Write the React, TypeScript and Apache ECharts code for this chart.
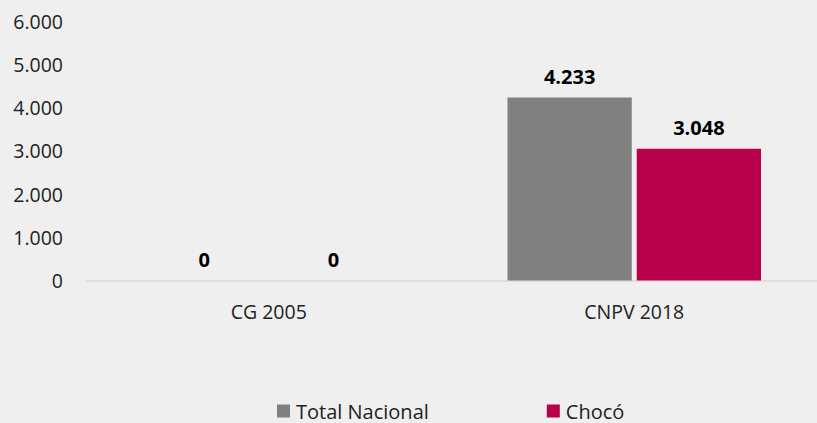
import React, { useEffect, useRef } from "react";
import * as echarts from "echarts";

const categories = ["CG 2005", "CNPV 2018"];
const totalNacional = [0, 4233];
const choco = [0, 3048];
const seriesNames = ["Total Nacional", "Chocó"];

const fmt = (v: number) => {
  const s = Math.round(v).toString();
  return s.replace(/\B(?=(\d{3})+(?!\d))/g, ".");
};

const FONT = "'Open Sans', 'Noto Sans', sans-serif";

export default function App() {
  const ref = useRef<HTMLDivElement>(null);
  useEffect(() => {
    if (!ref.current) return;
    const chart = echarts.init(ref.current, undefined, { renderer: "svg" });
    const label = {
      show: true,
      position: "top" as const,
      distance: 11,
      fontFamily: FONT,
      fontWeight: "bold" as const,
      fontSize: 20,
      color: "#000",
      formatter: (p: any) => fmt(p.value),
    };
    chart.setOption({
      animation: false,
      backgroundColor: "#efefef",
      textStyle: { fontFamily: FONT },
      grid: { left: 86, top: 21, width: 740, height: 259.5, containLabel: false },
      legend: {
        data: seriesNames,
        left: 277,
        top: 401,
        padding: 0,
        itemWidth: 13,
        itemHeight: 13,
        itemGap: 118,
        icon: "rect",
        textStyle: { fontFamily: FONT, fontSize: 20, color: "#222", padding: [0, 0, 0, 1] },
      },
      xAxis: {
        type: "category",
        data: categories,
        axisLine: { lineStyle: { color: "#d9d9d9", width: 1.5 } },
        axisTick: { show: false },
        axisLabel: { fontFamily: FONT, fontSize: 19.5, color: "#222", margin: 21 },
      },
      yAxis: {
        type: "value",
        min: 0,
        max: 6000,
        interval: 1000,
        splitLine: { show: false },
        axisLine: { show: false },
        axisTick: { show: false },
        axisLabel: {
          fontFamily: FONT,
          fontSize: 19.5,
          color: "#222",
          margin: 23,
          formatter: (v: number) => fmt(v),
        },
      },
      series: [
        {
          name: seriesNames[0],
          type: "bar",
          data: totalNacional,
          barWidth: "34%",
          barGap: "4%",
          itemStyle: { color: "#808080" },
          label,
        },
        {
          name: seriesNames[1],
          type: "bar",
          data: choco,
          barWidth: "34%",
          barGap: "4%",
          itemStyle: { color: "#b9004b" },
          label,
        },
      ],
    });
    return () => chart.dispose();
  }, []);
  return (
    <div
      ref={ref}
      style={{ position: "fixed", left: 0, top: 0, width: 817, height: 423 }}
    />
  );
}
